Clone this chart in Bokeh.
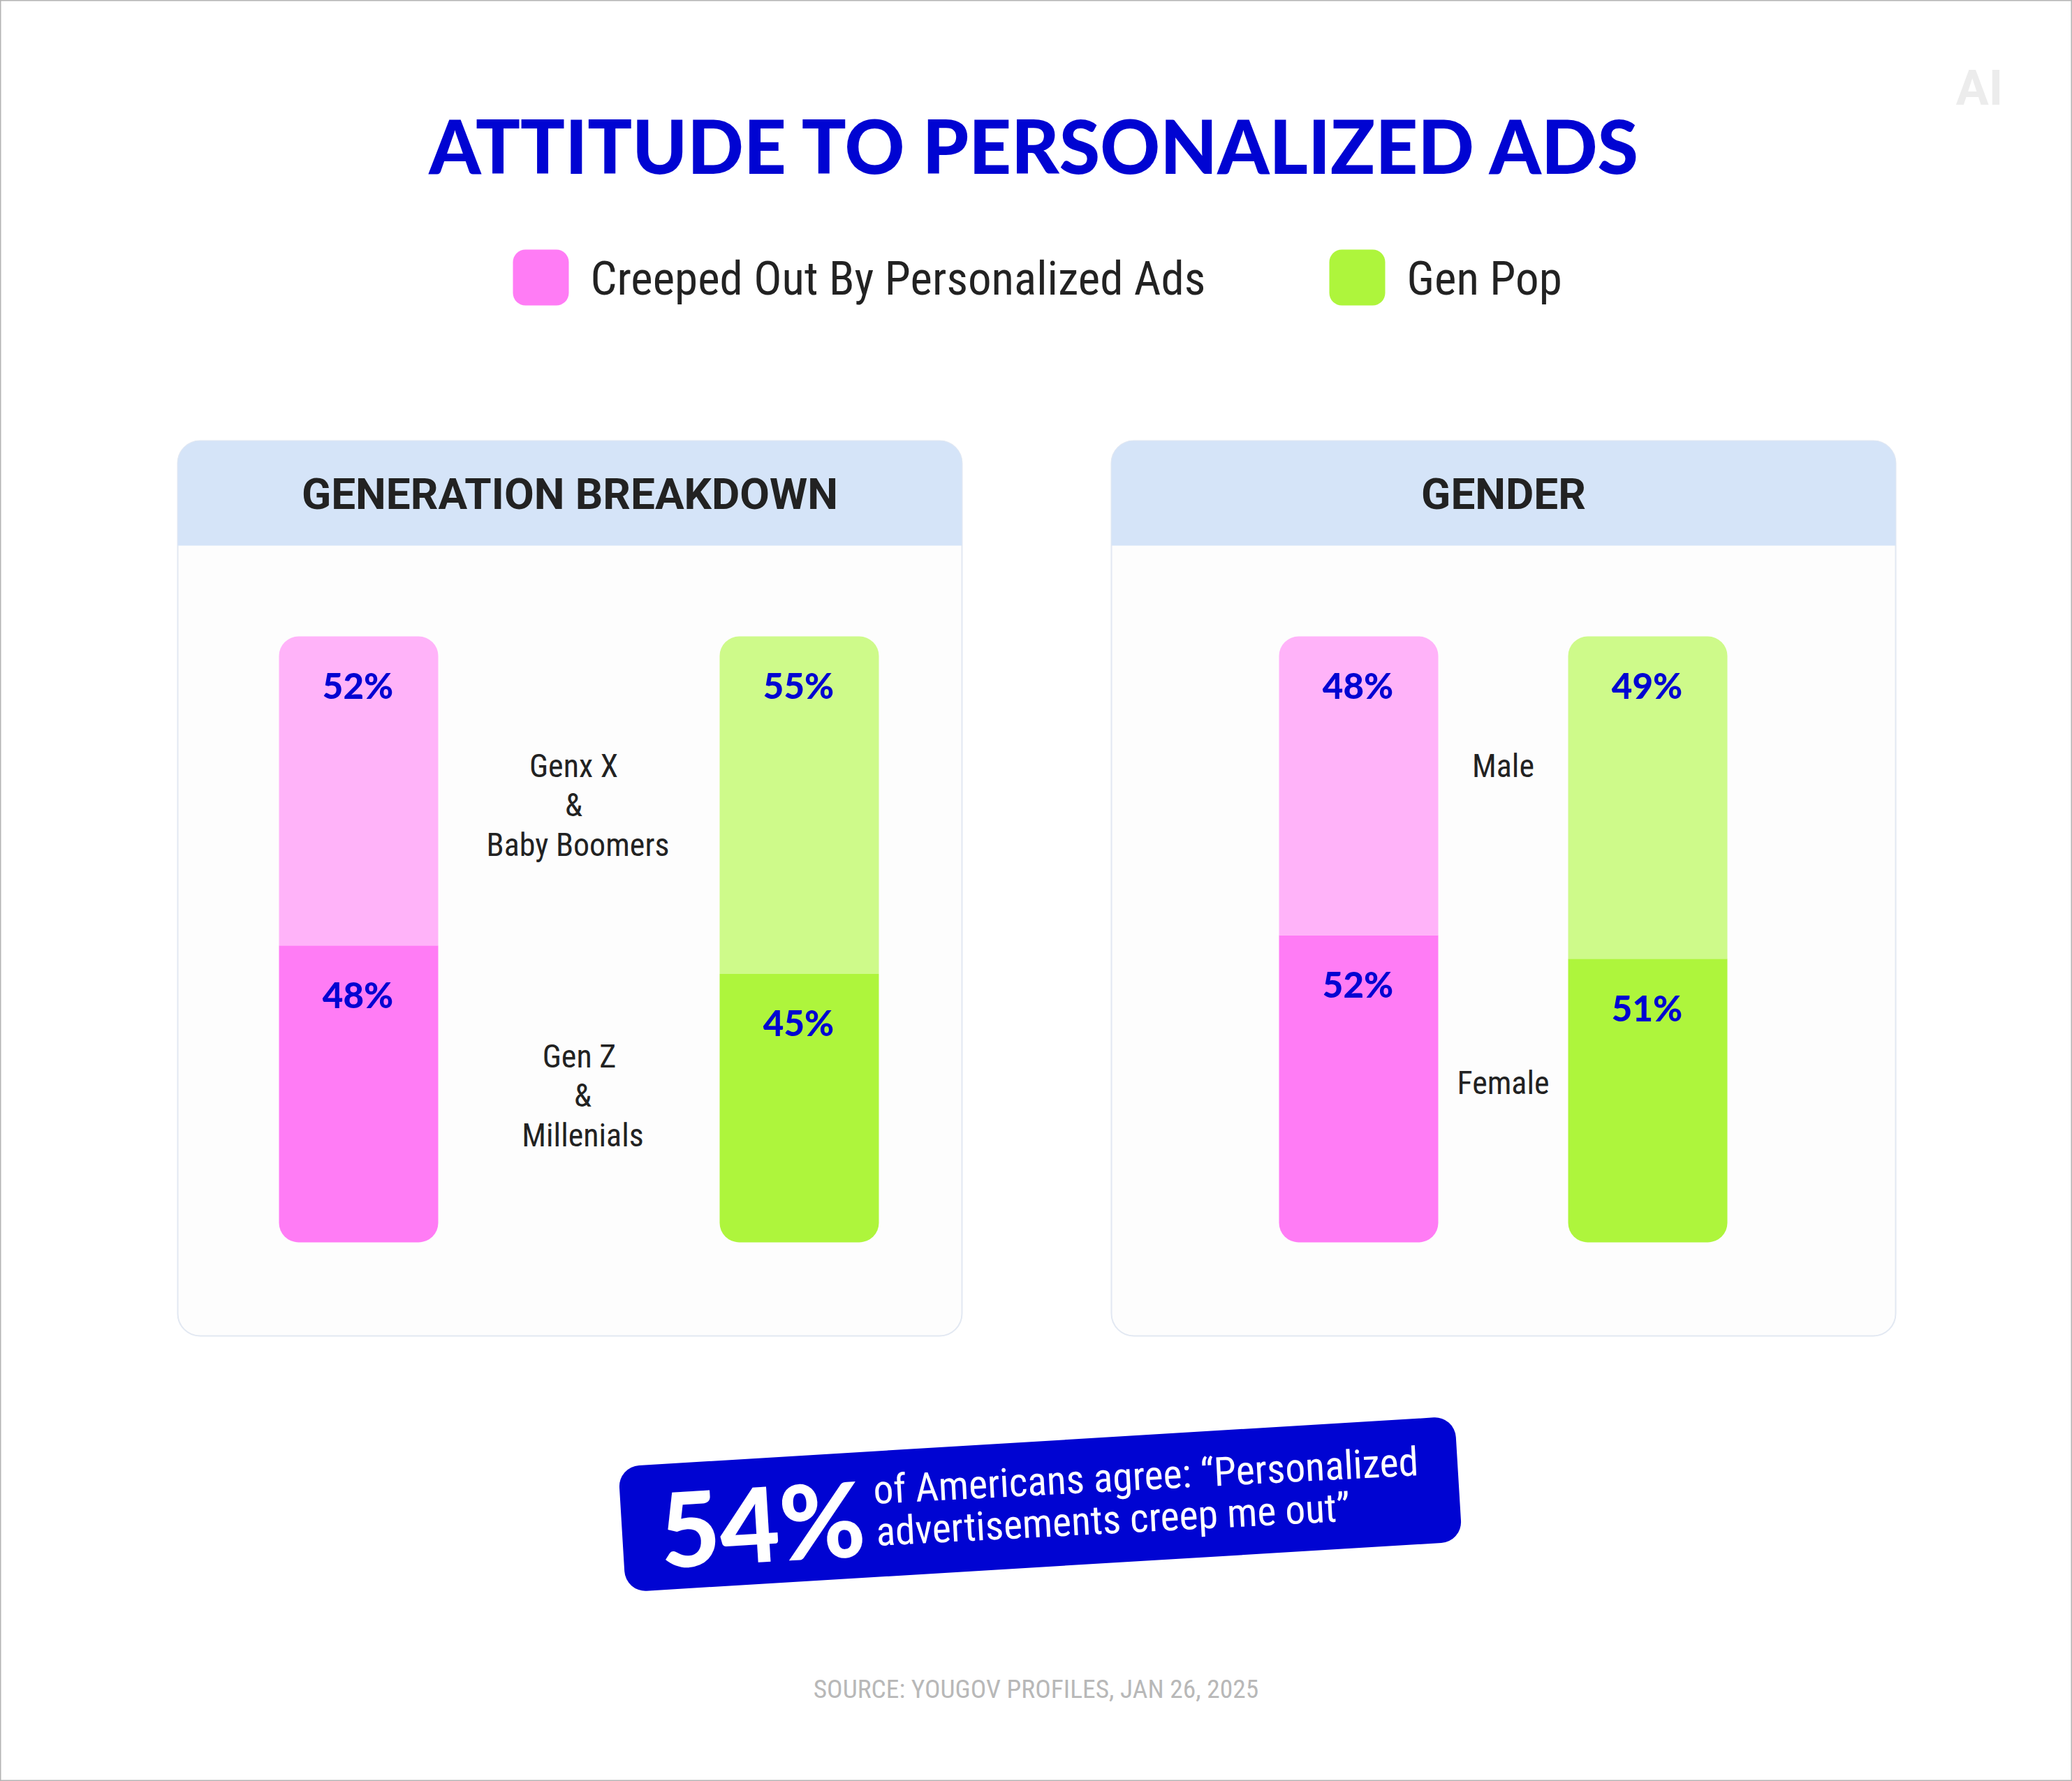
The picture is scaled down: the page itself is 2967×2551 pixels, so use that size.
from bokeh.core.properties import value
from bokeh.embed import file_html
from bokeh.models import Range1d
from bokeh.plotting import figure
from bokeh.resources import INLINE

TITLE = "ATTITUDE TO PERSONALIZED ADS"
SERIES = ["Creeped Out By Personalized Ads", "Gen Pop"]
PANELS = ["GENERATION BREAKDOWN", "GENDER"]
GEN_GROUPS = [["Gen Z", "&", "Millenials"], ["Genx X", "&", "Baby Boomers"]]
GENDER_GROUPS = [["Female"], ["Male"]]
GEN_CREEPED_LABELS = ["48%", "52%"]
GEN_POP_LABELS = ["45%", "55%"]
GENDER_CREEPED_LABELS = ["52%", "48%"]
GENDER_POP_LABELS = ["51%", "49%"]
# segment shares as drawn in the picture (lower, upper)
GEN_CREEPED = [49.0, 51.0]
GEN_POP = [44.3, 55.7]
GENDER_CREEPED = [50.7, 49.3]
GENDER_POP = [46.8, 53.2]
CALLOUT_VALUE = "54%"
CALLOUT_LINES = ["of Americans agree: \u201cPersonalized", "advertisements creep me out\u201d"]
SOURCE_NOTE = "SOURCE: YOUGOV PROFILES, JAN 26, 2025"
LOGO = "AI"

BLUE = "#0004d2"
PINK, PINK_L = "#ff7cf5", "#ffb3f9"
GREEN, GREEN_L = "#aef53c", "#cefa8a"
DARK = "#222222"
NARROW = "Roboto Condensed"
HEAVY = "Lato Black"
BOLD = "Roboto"

BAR_TOP, BAR_BOTTOM = 911, 1779
to_pct = lambda y: (BAR_BOTTOM - y) * 100 / (BAR_BOTTOM - BAR_TOP)

p = figure(width=2967, height=2551, output_backend="svg", toolbar_location=None,
           x_range=Range1d(0, 2967), y_range=Range1d(2551, 0),
           x_axis_location=None, y_axis_location=None, min_border=0,
           background_fill_color="white", border_fill_color="white",
           outline_line_color="#b4b4b4", outline_line_width=2)
p.grid.visible = False
p.extra_y_ranges = {"pct": Range1d(to_pct(2551), to_pct(0))}


def text(x, y, s, font, size, color=DARK, style="normal", angle=0, align="center"):
    p.text(x=[x], y=[y], text=[s], text_font=value(font), text_font_size=f"{size}px", text_color=color,
           text_font_style=style, text_align=align, text_baseline="middle", angle=[angle],
           angle_units="deg")


text(1483, 207, TITLE, HEAVY, 106, BLUE)

# legend
for x0, x1, tx, col, name in [(734, 814, 845, PINK, SERIES[0]), (1903, 1983, 2014, GREEN, SERIES[1])]:
    p.quad(left=[x0], right=[x1], top=[357], bottom=[437], fill_color=col, line_color=None, border_radius=18)
    text(tx, 398, name, NARROW, 67, DARK, align="left")

# panels
for (x0, x1), title in zip([(254, 1377), (1591, 2714)], PANELS):
    p.quad(left=[x0], right=[x1], top=[631], bottom=[1913], fill_color="#fdfdfd", line_color="#e2e8f2",
           line_width=2, border_radius=32)
    p.quad(left=[x0], right=[x1], top=[631], bottom=[781], fill_color="#d5e4f8", line_color=None,
           border_radius=(32, 32, 0, 0))
    text((x0 + x1) / 2, 707, title, BOLD, 62, DARK, "bold")


def bar(x0, x1, shares, labels, dark, light):
    cx = (x0 + x1) / 2
    p.vbar(x=[cx], width=[x1 - x0], bottom=[0], top=[shares[0]], y_range_name="pct",
           fill_color=dark, line_color=None, border_radius=(0, 0, 28, 28))
    p.vbar(x=[cx], width=[x1 - x0], bottom=[shares[0]], top=[shares[0] + shares[1]], y_range_name="pct",
           fill_color=light, line_color=None, border_radius=(28, 28, 0, 0))
    seam = BAR_BOTTOM - shares[0] * (BAR_BOTTOM - BAR_TOP) / 100
    text(cx - 1, 981, labels[1], HEAVY, 51, BLUE)
    text(cx - 1, seam + 70, labels[0], HEAVY, 51, BLUE)


bar(399, 627, GEN_CREEPED, GEN_CREEPED_LABELS, PINK, PINK_L)
bar(1030, 1258, GEN_POP, GEN_POP_LABELS, GREEN, GREEN_L)
bar(1831, 2059, GENDER_CREEPED, GENDER_CREEPED_LABELS, PINK, PINK_L)
bar(2245, 2473, GENDER_POP, GENDER_POP_LABELS, GREEN, GREEN_L)

# group labels
for lines, xs, y0 in [(GEN_GROUPS[1], (821, 821, 827), 1096), (GEN_GROUPS[0], (829, 834, 834), 1512),
                      (GENDER_GROUPS[1], (2152,), 1096), (GENDER_GROUPS[0], (2152,), 1550)]:
    for i, (s, x) in enumerate(zip(lines, xs)):
        text(x, y0 + i * 56.5, s, NARROW, 46, DARK)

# callout
p.rect(x=[1489], y=[2154], width=[1200], height=[180], angle=[3.45], angle_units="deg",
       fill_color=BLUE, line_color=None, border_radius=30, width_units="screen", height_units="screen")
text(1091, 2180, CALLOUT_VALUE, HEAVY, 148, "white", angle=3.45)
text(1250, 2134, CALLOUT_LINES[0], NARROW, 57.5, "white", angle=3.0, align="left")
text(1254, 2194, CALLOUT_LINES[1], NARROW, 57.5, "white", angle=3.0, align="left")

text(1483, 2418, SOURCE_NOTE, NARROW, 37.5, "#b8b8b8")
text(2834, 125, LOGO, BOLD, 70, "#ececec", "bold")

open("out.html", "w").write(file_html(p, INLINE))
